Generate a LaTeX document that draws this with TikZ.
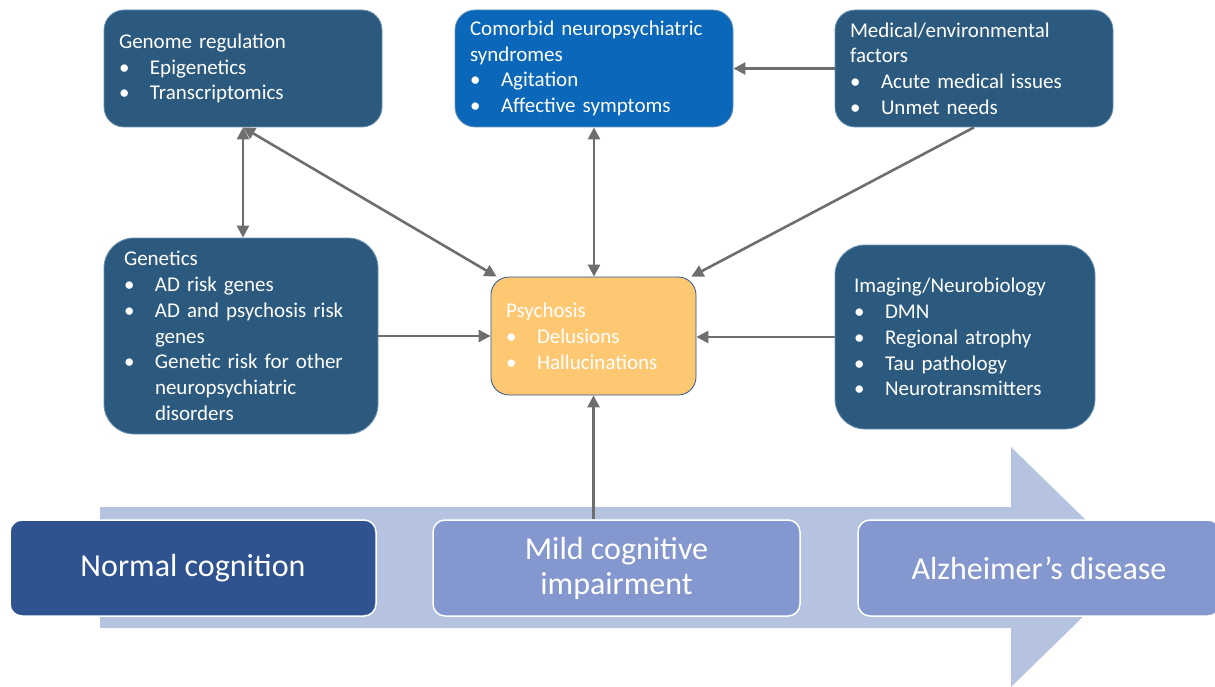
\documentclass[tikz,border=0pt]{standalone}
\usepackage{fontspec}
\setmainfont{Carlito}
\usetikzlibrary{arrows.meta,calc}
\definecolor{boxblue}{HTML}{2C5A7E}
\definecolor{boxedge}{HTML}{6A92B6}
\definecolor{brightblue}{HTML}{0A67B9}
\definecolor{psyfill}{HTML}{FEC872}
\definecolor{psyedge}{HTML}{2F5290}
\definecolor{darkstage}{HTML}{2F5290}
\definecolor{lightstage}{HTML}{8497CE}
\definecolor{arrowfill}{HTML}{B5C3E1}
\definecolor{linkgray}{HTML}{6E6E6E}
\newcommand{\bul}{\makebox[31pt][l]{\textbullet}}
\newcommand{\cont}{\hspace*{31pt}}
\tikzset{
  infobox/.style={draw=boxedge, line width=0.8pt, fill=boxblue, rounded corners=20pt,
    text=white, align=left, inner xsep=15pt, inner ysep=0pt,
    font=\fontsize{21}{25.8}\selectfont},
  stagebox/.style={draw=white, line width=1.5pt, rounded corners=12pt, text=white,
    align=center, inner sep=0pt, minimum height=96pt,
    font=\fontsize{32}{35}\selectfont},
  link/.style={draw=linkgray, line width=2.6pt},
  >={Triangle[length=12pt,width=12pt]}
}
\begin{document}
\begin{tikzpicture}[x=1pt,y=-1pt]
\useasboundingbox (0,0) rectangle (1215,687);
% big process arrow
\fill[arrowfill] (100,507) -- (1011,507) -- (1011,447) -- (1134,567) -- (1011,687)
  -- (1011,628) -- (100,628) -- cycle;
% stage boxes
\node[stagebox, fill=darkstage, minimum width=366pt] (normal) at (193,568) {Normal cognition};
\node[stagebox, fill=lightstage, minimum width=367pt] (mci) at (616.5,568) {Mild cognitive\\impairment};
\node[stagebox, fill=lightstage, minimum width=362pt] (ad) at (1039,568) {Alzheimer’s disease};
% info boxes
\node[infobox, text width=248pt, minimum height=117pt] (genome) at (243,68.5)
  {Genome regulation\\\bul Epigenetics\\\bul Transcriptomics};
\node[infobox, fill=brightblue, text width=248pt, minimum height=117pt] (comorbid) at (594,68.5)
  {Comorbid neuropsychiatric\\syndromes\\\bul Agitation\\\bul Affective symptoms};
\node[infobox, text width=248pt, minimum height=117pt] (medical) at (974,68.5)
  {Medical/environmental\\factors\\\bul Acute medical issues\\\bul Unmet needs};
\node[infobox, rounded corners=30pt, inner xsep=20pt, text width=234pt, minimum height=196pt] (genetics) at (241,336)
  {Genetics\\\bul AD risk genes\\\bul AD and psychosis risk\\\cont genes\\\bul Genetic risk for other\\\cont neuropsychiatric\\\cont disorders};
\node[infobox, fill=psyfill, draw=psyedge, rounded corners=18pt, text width=175pt, minimum height=118pt] (psy) at (593.5,336)
  {Psychosis\\\bul Delusions\\\bul Hallucinations};
\node[infobox, rounded corners=30pt, inner xsep=19pt, text width=222pt, minimum height=184pt] (imaging) at (965,337)
  {Imaging/Neurobiology\\\bul DMN\\\bul Regional atrophy\\\bul Tau pathology\\\bul Neurotransmitters};
% connectors
\draw[link,<->] (genome.south) -- (genome.south |- genetics.north);
\draw[link,<->] (genome.south) -- ($(psy.north west)+(6,0)$);
\draw[link,<->] (comorbid.south) -- (comorbid.south |- psy.north);
\draw[link,->] (medical.west) -- (comorbid.east);
\draw[link,->] (medical.south) -- ($(psy.north east)+(-5,0)$);
\draw[link,->] (genetics.east) -- (genetics.east -| psy.west);
\draw[link,->] (imaging.west) -- (imaging.west -| psy.east);
\draw[link,->] (psy.south |- mci.north) -- (psy.south);
\end{tikzpicture}
\end{document}
